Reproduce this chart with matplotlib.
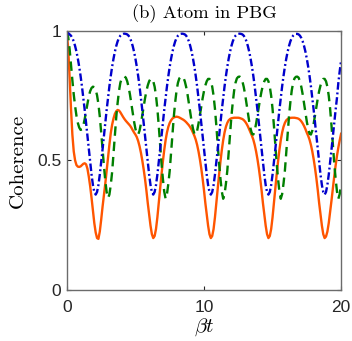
import numpy as np
import matplotlib
matplotlib.use("Agg")
import matplotlib.pyplot as plt

# time axis, sampled every 0.1 from 0 to 20
beta_t = np.round(np.arange(0, 201) * 0.1, 1)

# blue dash-dot curve
coh_blue = [
    1.000, 0.992, 0.987, 0.982, 0.973, 0.960, 0.942, 0.920, 0.893, 0.862, 0.826,
    0.786, 0.742, 0.695, 0.645, 0.594, 0.542, 0.492, 0.445, 0.405, 0.378,
    0.368, 0.378, 0.405, 0.445, 0.492, 0.542, 0.594, 0.645, 0.695, 0.742, 0.786,
    0.826, 0.862, 0.893, 0.920, 0.942, 0.960, 0.973, 0.982, 0.987, 0.989,
    0.990, 0.989, 0.987, 0.982, 0.973, 0.960, 0.942, 0.920, 0.893, 0.862, 0.826,
    0.786, 0.742, 0.695, 0.645, 0.594, 0.542, 0.492, 0.445, 0.405, 0.378,
    0.368, 0.378, 0.405, 0.445, 0.492, 0.542, 0.594, 0.645, 0.695, 0.742, 0.786,
    0.826, 0.862, 0.893, 0.920, 0.942, 0.960, 0.973, 0.982, 0.987, 0.989,
    0.990, 0.989, 0.987, 0.982, 0.973, 0.960, 0.942, 0.920, 0.893, 0.862, 0.826,
    0.786, 0.742, 0.695, 0.645, 0.594, 0.542, 0.492, 0.445, 0.405, 0.378,
    0.368, 0.378, 0.405, 0.445, 0.492, 0.542, 0.594, 0.645, 0.695, 0.742, 0.786,
    0.826, 0.862, 0.893, 0.920, 0.942, 0.960, 0.973, 0.982, 0.987, 0.989,
    0.990, 0.989, 0.987, 0.982, 0.973, 0.960, 0.942, 0.920, 0.893, 0.862, 0.826,
    0.786, 0.742, 0.695, 0.645, 0.594, 0.542, 0.492, 0.445, 0.405, 0.378,
    0.368, 0.378, 0.405, 0.445, 0.492, 0.542, 0.594, 0.645, 0.695, 0.742, 0.786,
    0.826, 0.862, 0.893, 0.920, 0.942, 0.960, 0.973, 0.982, 0.987, 0.989,
    0.989, 0.987, 0.982, 0.973, 0.960, 0.942, 0.920, 0.893, 0.862, 0.826,
    0.786, 0.742, 0.695, 0.645, 0.594, 0.542, 0.492, 0.445, 0.405, 0.378,
    0.368, 0.378, 0.405, 0.445, 0.492, 0.542, 0.594, 0.645, 0.695, 0.742, 0.800,
    0.845, 0.885,
]

# green dashed curve
coh_green = [
    1.000, 0.975, 0.930, 0.870, 0.810, 0.755, 0.710, 0.672, 0.645, 0.627, 0.618,
    0.620, 0.635, 0.660, 0.690, 0.720, 0.748, 0.768, 0.780, 0.785, 0.783,
    0.773, 0.752, 0.718, 0.670, 0.610, 0.545, 0.480, 0.423, 0.378, 0.355,
    0.368, 0.405, 0.455, 0.525, 0.597, 0.667, 0.722, 0.768, 0.800, 0.817, 0.823,
    0.824, 0.820, 0.806, 0.784, 0.755, 0.720, 0.684, 0.650, 0.622, 0.603, 0.600,
    0.615, 0.642, 0.675, 0.708, 0.740, 0.768, 0.790, 0.806, 0.815, 0.815,
    0.806, 0.785, 0.750, 0.700, 0.635, 0.562, 0.490, 0.430, 0.380, 0.352,
    0.370, 0.410, 0.460, 0.530, 0.600, 0.670, 0.725, 0.770, 0.800, 0.817, 0.823,
    0.824, 0.820, 0.806, 0.784, 0.755, 0.720, 0.684, 0.650, 0.622, 0.603, 0.600,
    0.615, 0.642, 0.675, 0.708, 0.740, 0.768, 0.790, 0.806, 0.815, 0.815,
    0.806, 0.785, 0.750, 0.700, 0.635, 0.562, 0.490, 0.430, 0.380, 0.352,
    0.370, 0.410, 0.460, 0.530, 0.600, 0.670, 0.725, 0.770, 0.800, 0.817, 0.823,
    0.824, 0.820, 0.806, 0.784, 0.755, 0.720, 0.684, 0.650, 0.622, 0.603, 0.600,
    0.615, 0.642, 0.675, 0.708, 0.740, 0.768, 0.790, 0.806, 0.815, 0.815,
    0.806, 0.785, 0.750, 0.700, 0.635, 0.562, 0.490, 0.430, 0.380, 0.352,
    0.370, 0.410, 0.460, 0.530, 0.600, 0.670, 0.725, 0.770, 0.800, 0.817, 0.823,
    0.824, 0.820, 0.806, 0.784, 0.755, 0.720, 0.684, 0.650, 0.622, 0.603, 0.600,
    0.615, 0.642, 0.675, 0.708, 0.740, 0.768, 0.790, 0.806, 0.815, 0.815,
    0.806, 0.785, 0.750, 0.700, 0.635, 0.562, 0.490, 0.430, 0.380, 0.352,
    0.370, 0.410,
]

# orange solid curve
coh_orange = [
    0.990, 0.930, 0.820, 0.700, 0.600, 0.535, 0.500, 0.482, 0.476, 0.475,
    0.477, 0.482, 0.487, 0.489, 0.485, 0.468, 0.437, 0.400, 0.355, 0.305,
    0.258, 0.222, 0.200, 0.197, 0.225, 0.270, 0.320, 0.365, 0.410, 0.460,
    0.510, 0.560, 0.605, 0.638, 0.662, 0.680, 0.690, 0.695, 0.693, 0.686,
    0.677, 0.668, 0.660, 0.653, 0.647, 0.641, 0.635, 0.627, 0.617, 0.608,
    0.600, 0.590, 0.575, 0.555, 0.530, 0.500, 0.466, 0.428, 0.384, 0.335,
    0.290, 0.248, 0.215, 0.200,
    0.208, 0.235, 0.280, 0.335, 0.392, 0.445, 0.495, 0.540, 0.578, 0.608,
    0.630, 0.645, 0.655, 0.662, 0.666, 0.668, 0.669, 0.668, 0.666, 0.663,
    0.660, 0.657, 0.653, 0.648, 0.642, 0.636, 0.628, 0.619, 0.607, 0.595,
    0.580, 0.560, 0.535, 0.505, 0.470, 0.430, 0.385, 0.335, 0.290, 0.248, 0.215,
    0.200, 0.208, 0.235, 0.280, 0.335, 0.392, 0.445, 0.495, 0.540, 0.578,
    0.608, 0.630, 0.645, 0.655, 0.660, 0.663, 0.664, 0.665, 0.665, 0.665,
    0.665, 0.664, 0.662, 0.660, 0.656, 0.650, 0.642, 0.632, 0.620, 0.607,
    0.595, 0.580, 0.560, 0.535, 0.505, 0.470, 0.430, 0.385, 0.335, 0.290,
    0.248, 0.215,
    0.200, 0.208, 0.235, 0.280, 0.335, 0.392, 0.445, 0.495, 0.540, 0.578,
    0.608, 0.630, 0.645, 0.655, 0.660, 0.663, 0.664, 0.665, 0.665, 0.665,
    0.664, 0.663, 0.661, 0.657, 0.651, 0.643, 0.633, 0.621, 0.607, 0.595,
    0.580, 0.560, 0.535, 0.505, 0.470, 0.430, 0.385, 0.335, 0.290, 0.248, 0.215,
    0.200, 0.206, 0.225, 0.258, 0.300, 0.345, 0.392, 0.438, 0.480, 0.518,
    0.550, 0.578, 0.603,
]

x_ticks = [0, 10, 20]
y_ticks = [0, 0.5, 1]
y_tick_labels = ["0", "0.5", "1"]

plt.rcParams["mathtext.fontset"] = "cm"
plt.rcParams["font.family"] = ["Liberation Sans", "DejaVu Sans"]

fig = plt.figure(figsize=(3.52, 3.41), dpi=100)
ax = fig.add_axes([0.190, 0.150, 0.779, 0.759])

ax.plot(beta_t, coh_orange, color="#ff5500", lw=1.7, ls="-")
ax.plot(beta_t, coh_green, color="#007f00", lw=1.7, ls=(0, (4, 2.5)))
ax.plot(beta_t, coh_blue, color="#0000cc", lw=1.7, ls=(0, (3.2, 1.2, 0.8, 1.2)))

ax.set_xlim(0, 20)
ax.set_ylim(0, 1)
ax.set_xticks(x_ticks)
ax.set_yticks(y_ticks)
ax.set_yticklabels(y_tick_labels)
ax.tick_params(direction="in", length=3, width=0.8, top=True, right=True,
               labelsize=12.5, colors="#262626")
ax.tick_params(axis="x", pad=7)
ax.tick_params(axis="y", pad=4)
for s in ax.spines.values():
    s.set_color("#6b6b6b")
    s.set_linewidth(1.0)

ax.set_title("(b) Atom in PBG", fontname="cmr10", fontsize=13.4, pad=9)
ax.set_ylabel("Coherence", fontname="cmr10", fontsize=15, labelpad=7)
ax.set_xlabel(r"$\beta t$", fontsize=15, labelpad=1)

fig.savefig("out.png", dpi=100)
